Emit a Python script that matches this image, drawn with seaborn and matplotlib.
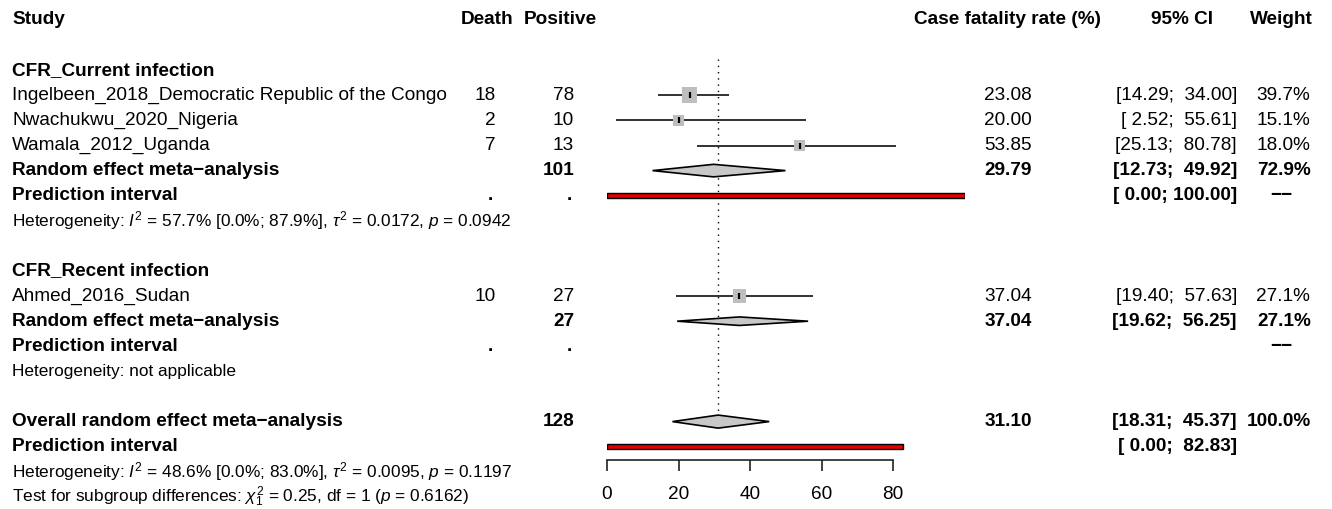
import numpy as np
import pandas as pd
import seaborn as sns
import matplotlib.pyplot as plt
from matplotlib.transforms import blended_transform_factory

# ---------------- data ----------------
studies = ["Ingelbeen_2018_Democratic Republic of the Congo",
           "Nwachukwu_2020_Nigeria", "Wamala_2012_Uganda", "Ahmed_2016_Sudan"]
deaths = [18, 2, 7, 10]
positives = [78, 10, 13, 27]
cfr = [23.08, 20.00, 53.85, 37.04]
ci_lo = [14.29, 2.52, 25.13, 19.40]
ci_hi = [34.00, 55.61, 80.78, 57.63]
weights = [39.7, 15.1, 18.0, 27.1]

pooled_labels = ["Random effect meta\u2212analysis", "Random effect meta\u2212analysis",
                 "Overall random effect meta\u2212analysis"]
pooled_total = [101, 27, 128]
pooled_est = [29.79, 37.04, 31.10]
pooled_lo = [12.73, 19.62, 18.31]
pooled_hi = [49.92, 56.25, 45.37]
pooled_weight = [72.9, 27.1, 100.0]

pred_lo = [0.00, np.nan, 0.00]
pred_hi = [100.00, np.nan, 82.83]

het_text = [
    r"Heterogeneity: $I^2$ = 57.7% [0.0%; 87.9%], $\tau^2$ = 0.0172, $p$ = 0.0942",
    "Heterogeneity: not applicable",
    r"Heterogeneity: $I^2$ = 48.6% [0.0%; 83.0%], $\tau^2$ = 0.0095, $p$ = 0.1197",
]
subgroup_test = r"Test for subgroup differences: $\chi^2_1$ = 0.25, df = 1 ($p$ = 0.6162)"
group_labels = ["CFR_Current infection", "CFR_Recent infection"]
x_ticks = [0, 20, 40, 60, 80]

# row layout (row index, top to bottom)
study_rows = [3, 4, 5, 11]
group_rows = [2, 10]
pooled_rows = [6, 12, 16]
pred_rows = [7, 13, 17]
het_rows = [8, 14, 18]
diamond_half = [0.25, 0.17, 0.26]

df = pd.DataFrame({"study": studies, "death": deaths, "positive": positives,
                   "cfr": cfr, "lo": ci_lo, "hi": ci_hi, "weight": weights,
                   "row": study_rows})
side_px = 4 + 1.85 * np.sqrt(df["weight"])
df["area"] = (side_px * 0.72) ** 2

# ---------------- figure ----------------
sns.set_theme(style="white")
plt.rcParams["font.family"] = ["Liberation Sans", "DejaVu Sans"]
plt.rcParams["mathtext.fontset"] = "custom"
plt.rcParams["mathtext.rm"] = "Liberation Sans"
plt.rcParams["mathtext.it"] = "Liberation Sans:italic"
plt.rcParams["mathtext.bf"] = "Liberation Sans:bold"

W, H = 1332, 509
fig = plt.figure(figsize=(W / 100, H / 100), dpi=100)
ax = fig.add_axes([607 / W, 0, 357.5 / W, 1])
ax.set_xlim(0, 100)
# pixel y = 20 + 25.1 * row
ax.set_ylim((H - 20) / 25.1, -20 / 25.1)
ax.patch.set_alpha(0)

MAIN = 13.7
SMALL = 12.4
tr = blended_transform_factory(fig.transFigure, ax.transData)


def put(px, row, s, ha="left", bold=False, size=MAIN):
    fig.text(px / W, row, s, transform=tr, ha=ha, va="center",
             fontsize=size, fontweight="bold" if bold else "normal", color="black")


def ci_str(lo, hi):
    return f"[{lo:5.2f}; {hi:6.2f}]"


# reference line at overall estimate
ax.vlines(pooled_est[2], 1.55, 15.75, colors="black", linewidth=1,
          linestyles=(0, (1, 3.5)), zorder=1)

# study CIs and squares
ax.hlines(df["row"], df["lo"], df["hi"], colors="#222222", linewidth=1.3, zorder=2)
sns.scatterplot(data=df, x="cfr", y="row", s=df["area"], marker="s",
                color="#BEBEBE", edgecolor="none", linewidth=0, ax=ax,
                legend=False, zorder=3)
ax.scatter(df["cfr"], df["row"], marker="|", s=18, color="black",
           linewidths=1.6, zorder=4)

# pooled diamonds
for r, e, lo, hi, h in zip(pooled_rows, pooled_est, pooled_lo, pooled_hi, diamond_half):
    ax.fill([lo, e, hi, e], [r, r - h, r, r + h], facecolor="#C8C8C8",
            edgecolor="black", linewidth=1.2, zorder=3)

# prediction intervals
for r, lo, hi in zip(pred_rows, pred_lo, pred_hi):
    if not np.isnan(lo):
        ax.barh(r, hi - lo, left=lo, height=0.21, color="#E00000",
                edgecolor="black", linewidth=1, zorder=3)

# x axis
for side in ["top", "right", "left"]:
    ax.spines[side].set_visible(False)
ax.spines["bottom"].set_position(("data", (460 - 20) / 25.1))
ax.spines["bottom"].set_bounds(0, 80)
ax.spines["bottom"].set_color("#222222")
ax.spines["bottom"].set_linewidth(1.2)
ax.set_xticks(x_ticks)
ax.set_yticks([])
ax.tick_params(axis="x", direction="out", length=8, width=1.2, color="#222222",
               labelsize=MAIN, labelcolor="black", pad=11, bottom=True)
ax.grid(False)
ax.set_xlabel("")
ax.set_ylabel("")

# ---------------- text columns ----------------
put(12, 0, "Study", bold=True)
put(487, 0, "Death", ha="center", bold=True)
put(560, 0, "Positive", ha="center", bold=True)
put(1008, 0, "Case fatality rate (%)", ha="center", bold=True)
put(1182, 0, "95% CI", ha="center", bold=True)
put(1313, 0, "Weight", ha="right", bold=True)

for r, g in zip(group_rows, group_labels):
    put(12, r, g, bold=True)

for _, s in df.iterrows():
    put(12, s["row"], s["study"])
    put(496, s["row"], f"{s['death']:.0f}", ha="right")
    put(574, s["row"], f"{s['positive']:.0f}", ha="right")
    put(1008, s["row"], f"{s['cfr']:.2f}", ha="center")
    put(1237, s["row"], ci_str(s["lo"], s["hi"]), ha="right")
    put(1310, s["row"], f"{s['weight']:.1f}%", ha="right")

for i, r in enumerate(pooled_rows):
    put(12, r, pooled_labels[i], bold=True)
    put(574, r, str(pooled_total[i]), ha="right", bold=True)
    put(1008, r, f"{pooled_est[i]:.2f}", ha="center", bold=True)
    put(1237, r, ci_str(pooled_lo[i], pooled_hi[i]), ha="right", bold=True)
    put(1311, r, f"{pooled_weight[i]:.1f}%", ha="right", bold=True)

for i, r in enumerate(pred_rows):
    put(12, r, "Prediction interval", bold=True)
    if i < 2:
        put(493, r, ".", ha="right", bold=True)
        put(572, r, ".", ha="right", bold=True)
        put(1281, r, "\u2212\u2212", ha="center", bold=True)
    if not np.isnan(pred_lo[i]):
        put(1237, r, ci_str(pred_lo[i], pred_hi[i]), ha="right", bold=True)

for r, t in zip(het_rows, het_text):
    put(12, r, t, size=SMALL)
put(12, 19, subgroup_test, size=SMALL)

fig.savefig("out.png", dpi=100)
